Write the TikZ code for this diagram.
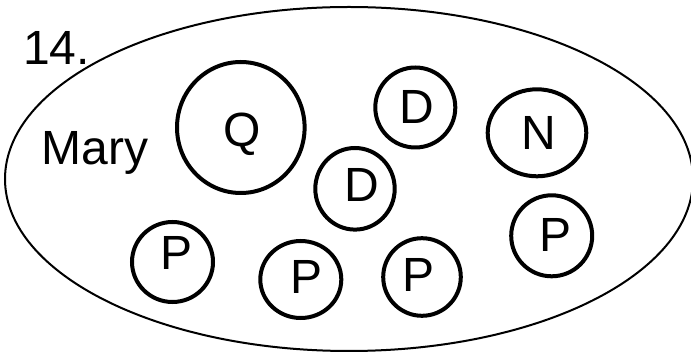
\documentclass[tikz,border=0pt]{standalone}
\usepackage{fontspec}
\setmainfont{Liberation Sans}
\usetikzlibrary{shapes.geometric}

\tikzset{
  ring/.style={draw, ellipse, line width=4pt, inner sep=0pt, outer sep=0pt},
  letter/.style={inner sep=0pt, anchor=base, font=\fontsize{48}{56}\selectfont},
  outline/.style={draw, ellipse, line width=2pt, inner sep=0pt, outer sep=0pt}
}

\begin{document}
\begin{tikzpicture}[x=1pt, y=-1pt]
  \useasboundingbox (0,0) rectangle (691,352);

  % the enclosing set
  \node[outline, minimum width=688pt, minimum height=344pt] (set) at (349,179) {};

  % captions
  \node[letter, anchor=base west] (num) at (23.1,65) {14.};
  \node[letter, anchor=base west] (mary) at (41.5,165) {Mary};

  % members
  \node[ring, minimum width=127.6pt, minimum height=131pt] (q) at (240.8,127.5) {};
  \node[letter] (qt) at (242,147) {Q};

  \node[ring, minimum width=80pt, minimum height=80pt] (d1) at (415.3,107.5) {};
  \node[letter] (d1t) at (417,124) {D};

  \node[ring, minimum width=98.6pt, minimum height=87pt] (n) at (537,132.8) {};
  \node[letter] (nt) at (539,149.3) {N};

  \node[ring, minimum width=79.4pt, minimum height=81.6pt] (d2) at (355,188.8) {};
  \node[letter] (d2t) at (361.7,201.7) {D};

  \node[ring, minimum width=81pt, minimum height=80pt] (p1) at (172.5,262) {};
  \node[letter] (p1t) at (177,270) {P};

  \node[ring, minimum width=81pt, minimum height=77pt] (p2) at (300.8,279.5) {};
  \node[letter] (p2t) at (307,293.3) {P};

  \node[ring, minimum width=77.6pt, minimum height=77.6pt] (p3) at (422,277) {};
  \node[letter] (p3t) at (419,291.7) {P};

  \node[ring, minimum width=81pt, minimum height=81pt] (p4) at (551.7,235.8) {};
  \node[letter] (p4t) at (555.5,251.7) {P};
\end{tikzpicture}
\end{document}
